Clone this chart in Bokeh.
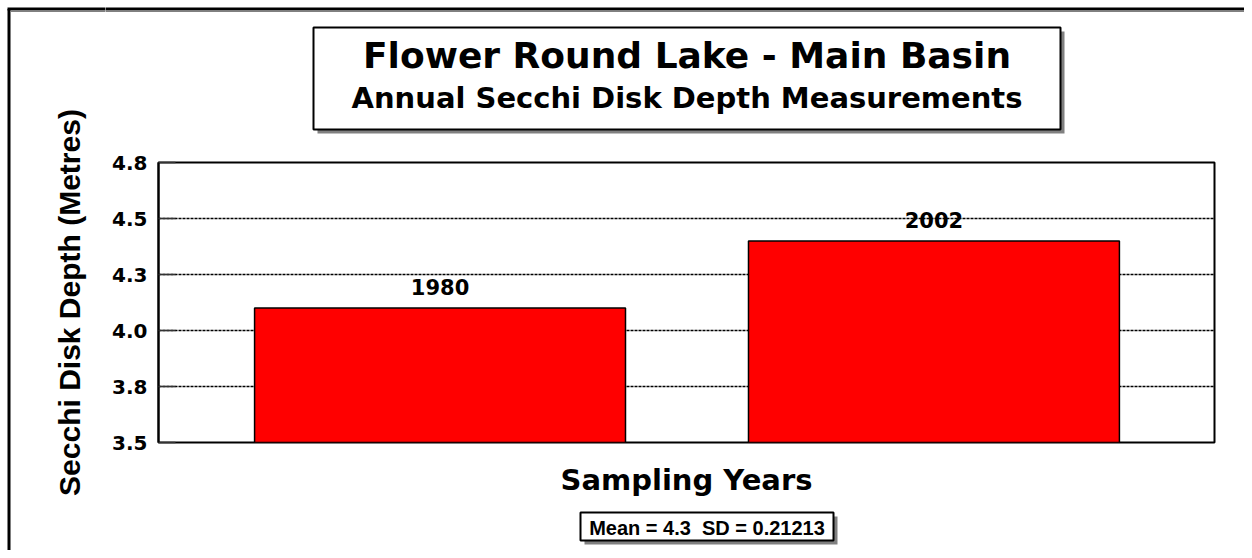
import math
from bokeh.plotting import figure
from bokeh.layouts import row, column
from bokeh.models import Range1d, FixedTicker, LabelSet, ColumnDataSource
from bokeh.core.properties import value
from bokeh.embed import file_html
from bokeh.resources import INLINE

# ---- data ----
years = ["1980", "2002"]
depths = [4.1, 4.4]
y_ticks = [3.5, 3.75, 4.0, 4.25, 4.5, 4.75]
y_tick_labels = ["3.5", "3.8", "4.0", "4.3", "4.5", "4.8"]
title_text = "Flower Round Lake - Main Basin"
subtitle_text = "Annual Secchi Disk Depth Measurements"
y_label = "Secchi Disk Depth (Metres)"
x_label = "Sampling Years"
stats_text = "Mean = 4.3\u00a0 SD = 0.21213"

FONT = "DejaVu Sans"
FONT2 = "Liberation Sans"
# half of (ascent - descent), in em: distance from box centre to baseline
MID = {FONT: 0.346, FONT2: 0.3465}

W, H = 1244, 550
LEFT_W = 105          # width of the left strip (y label, left border)
TOP_H = 150           # height of the title strip
BOT_H = 50            # height of the stats strip
MAIN_H = H - TOP_H - BOT_H
RIGHT_W = W - LEFT_W
FL, FT, FR, FB = 158, 162, 1214, 442   # plot-area edges on the page


def no_align(f):
    try:
        f.frame_align = False
    except Exception:
        pass


def sketch(w, h):
    """A figure whose frame is the whole canvas, in pixel units (y down)."""
    f = figure(width=w, height=h, output_backend="svg", toolbar_location=None,
               title=None, x_axis_type=None, y_axis_type=None,
               x_range=Range1d(0, w), y_range=Range1d(h, 0),
               min_border=0, min_border_left=0, min_border_right=0,
               min_border_top=0, min_border_bottom=0)
    f.outline_line_color = None
    f.grid.visible = False
    f.background_fill_color = None
    f.border_fill_color = None
    no_align(f)
    return f


def shadow_box(f, l, r, t, b, off=4):
    f.quad(left=l + off, right=r + off, top=t + off, bottom=b + off,
           fill_color="#808080", line_color=None)
    f.quad(left=l, right=r, top=t, bottom=b, fill_color="white",
           line_color="black", line_width=2)


def bold_text(f, x, baseline_y, txt, size, font=FONT):
    """Centred text whose baseline sits at baseline_y (canvas y, downwards)."""
    f.text(x=[x], y=[baseline_y - MID[font] * size], text=[txt],
           text_align="center", text_baseline="middle", text_font=value(font),
           text_font_style="bold", text_font_size=f"{size}px", text_color="black")


# ---- left strip: outer border + y axis title ----
left = sketch(LEFT_W, H)
left.segment(x0=[8.5], y0=[8.5], x1=[8.5], y1=[H + 5], line_color="black", line_width=3)
left.segment(x0=[7], y0=[8.5], x1=[LEFT_W + 5], y1=[8.5], line_color="black",
             line_width=3)
left.segment(x0=[10], y0=[10.75], x1=[LEFT_W + 5], y1=[10.75], line_color="#808080",
             line_width=1.5)
left.text(x=[69], y=[(FT + FB) / 2], text=[y_label], angle=math.pi / 2,
          text_align="center", text_baseline="middle", text_font=value(FONT2),
          text_font_style="bold", text_font_size="30px", text_color="black")

# ---- title strip ----
top = sketch(RIGHT_W, TOP_H)
top.segment(x0=[-5], y0=[8.5], x1=[RIGHT_W + 5], y1=[8.5], line_color="black",
            line_width=3)
top.segment(x0=[-5], y0=[10.75], x1=[RIGHT_W + 5], y1=[10.75], line_color="#808080",
            line_width=1.5)
shadow_box(top, 313 - LEFT_W, 1060 - LEFT_W, 27, 129)
bold_text(top, 686.5 - LEFT_W, 67, title_text, 36)
bold_text(top, 686.5 - LEFT_W, 108, subtitle_text, 29)

# ---- main chart ----
x_pos = list(range(len(years)))
src = ColumnDataSource(dict(x=x_pos, top=depths, year=years))

p = figure(width=RIGHT_W, height=MAIN_H, output_backend="svg", toolbar_location=None,
           title=None,
           x_range=Range1d(-0.57, 1.568), y_range=Range1d(y_ticks[0], y_ticks[-1]),
           min_border_left=FL - LEFT_W, min_border_right=W - FR,
           min_border_top=FT - TOP_H, min_border_bottom=TOP_H + MAIN_H - FB,
           background_fill_color="white", border_fill_color=None)
no_align(p)
p.outline_line_color = "black"
p.outline_line_width = 2

p.xgrid.grid_line_color = None
p.ygrid.ticker = FixedTicker(ticks=y_ticks)
p.ygrid.grid_line_color = "black"
p.ygrid.grid_line_dash = "3 1"
p.ygrid.grid_line_width = 1.6

ya = p.yaxis[0]
ya.ticker = FixedTicker(ticks=y_ticks)
ya.major_label_overrides = {v: s for v, s in zip(y_ticks, y_tick_labels)}
ya.major_tick_in = 17
ya.major_tick_out = 0
ya.major_tick_line_color = "#333333"
ya.major_tick_line_width = 1.5
ya.minor_tick_line_color = None
ya.axis_line_color = "black"
ya.axis_line_width = 2
ya.major_label_standoff = 11
ya.major_label_text_font = FONT
ya.major_label_text_font_style = "bold"
ya.major_label_text_font_size = "20px"
ya.major_label_text_color = "black"

xa = p.xaxis[0]
xa.ticker = FixedTicker(ticks=[])
xa.major_tick_line_color = None
xa.minor_tick_line_color = None
xa.axis_line_color = None
xa.major_label_standoff = 0
xa.axis_label = x_label
xa.axis_label_text_font = FONT
xa.axis_label_text_font_style = "bold"
xa.axis_label_text_font_size = "29px"
xa.axis_label_text_color = "black"
xa.axis_label_standoff = 20

p.vbar(x="x", top="top", bottom=y_ticks[0], width=0.751, source=src,
       fill_color="#FF0000", line_color="black", line_width=1.5)

labels = LabelSet(x="x", y="top", text="year", source=src, y_offset=13,
                  text_align="center", text_baseline="alphabetic",
                  text_font=value(FONT), text_font_style="bold",
                  text_font_size="21px", text_color="black")
p.add_layout(labels)

# ---- stats strip ----
bot = sketch(RIGHT_W, BOT_H)
y0 = TOP_H + MAIN_H
shadow_box(bot, 580 - LEFT_W, 833 - LEFT_W, 512 - y0, 540 - y0)
bold_text(bot, 706.5 - LEFT_W, 534 - y0, stats_text, 20, font=FONT2)

layout = row(left, column(top, p, bot, spacing=0), spacing=0)
open("out.html", "w").write(file_html(layout, INLINE))
